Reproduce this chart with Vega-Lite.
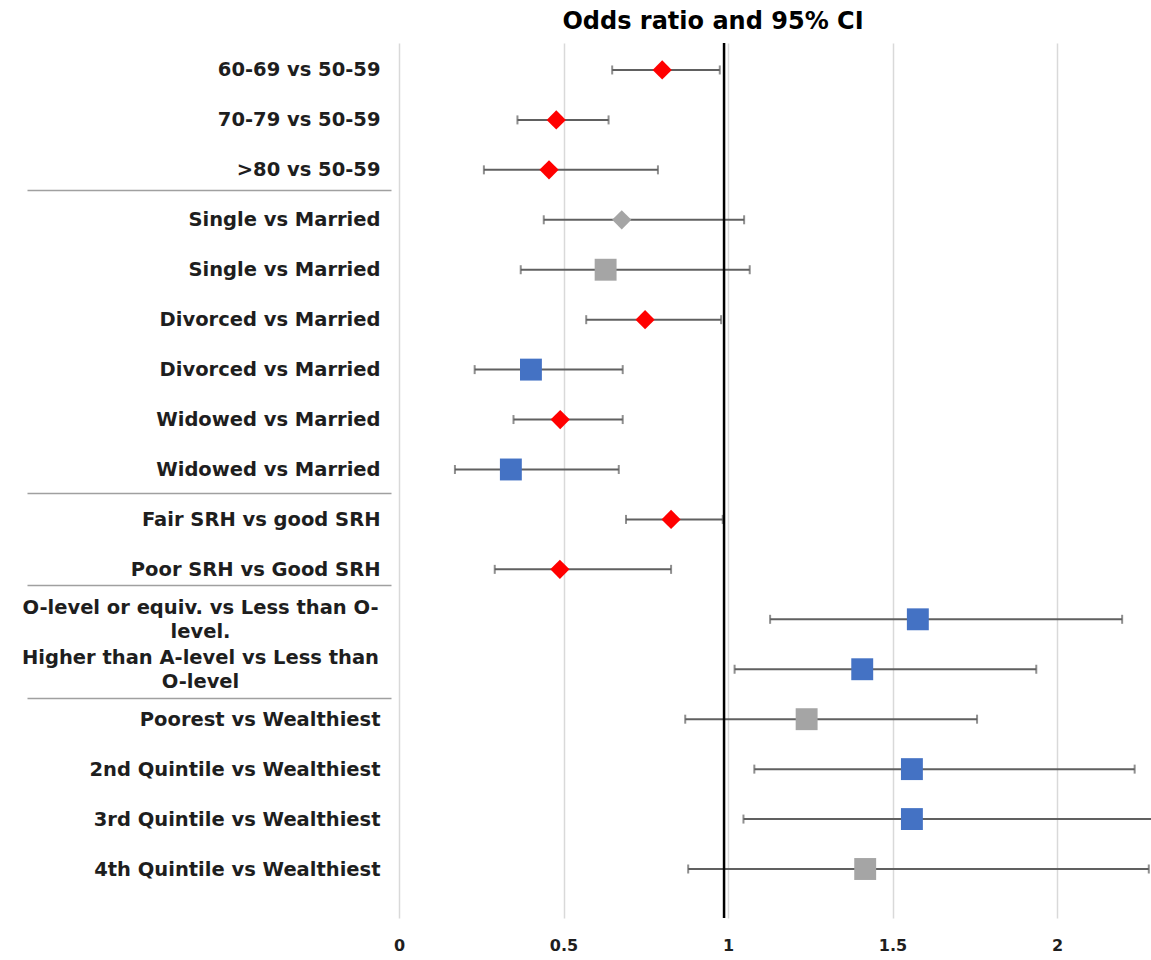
{
  "$schema": "https://vega.github.io/schema/vega-lite/v6.json",
  "autosize": "none",
  "padding": {"left": 399, "top": 43, "right": 0, "bottom": 42},
  "width": 752,
  "height": 875,
  "background": "white",
  "title": {"text": "Odds ratio and 95% CI", "font": "DejaVu Sans", "fontSize": 24, "fontWeight": "bold", "color": "#000000", "anchor": "middle", "dx": -62, "dy": 25, "offset": 14, "baseline": "alphabetic", "frame": "group"},
  "datasets": {
    "rows": [
      {"label": "60-69 vs 50-59", "or": 0.80, "lo": 0.648, "hi": 0.975, "model": "A", "kind": "A-sig"},
      {"label": "70-79 vs 50-59\u00a0", "or": 0.478, "lo": 0.36, "hi": 0.637, "model": "A", "kind": "A-sig"},
      {"label": ">80 vs 50-59", "or": 0.456, "lo": 0.258, "hi": 0.787, "model": "A", "kind": "A-sig"},
      {"label": "Single vs Married", "or": 0.677, "lo": 0.44, "hi": 1.049, "model": "A", "kind": "A-ns"},
      {"label": "Single vs Married\u200b", "or": 0.628, "lo": 0.37, "hi": 1.066, "model": "B", "kind": "B-ns"},
      {"label": "Divorced vs Married", "or": 0.748, "lo": 0.569, "hi": 0.979, "model": "A", "kind": "A-sig"},
      {"label": "Divorced vs Married\u200b", "or": 0.401, "lo": 0.23, "hi": 0.68, "model": "B", "kind": "B-sig"},
      {"label": "Widowed vs Married", "or": 0.49, "lo": 0.348, "hi": 0.68, "model": "A", "kind": "A-sig"},
      {"label": "Widowed vs Married\u200b", "or": 0.34, "lo": 0.17, "hi": 0.668, "model": "B", "kind": "B-sig"},
      {"label": "Fair SRH vs good SRH", "or": 0.827, "lo": 0.69, "hi": 0.984, "model": "A", "kind": "A-sig"},
      {"label": "Poor SRH vs Good SRH", "or": 0.489, "lo": 0.291, "hi": 0.827, "model": "A", "kind": "A-sig"},
      {"label": "O-level or equiv. vs Less than O-|level.", "or": 1.577, "lo": 1.128, "hi": 2.198, "model": "B", "kind": "B-sig"},
      {"label": "Higher than A-level vs Less than|O-level", "or": 1.408, "lo": 1.02, "hi": 1.937, "model": "B", "kind": "B-sig"},
      {"label": "Poorest vs Wealthiest", "or": 1.239, "lo": 0.87, "hi": 1.757, "model": "B", "kind": "B-ns"},
      {"label": "2nd Quintile vs Wealthiest", "or": 1.559, "lo": 1.08, "hi": 2.236, "model": "B", "kind": "B-sig"},
      {"label": "3rd Quintile vs Wealthiest", "or": 1.559, "lo": 1.047, "hi": 2.35, "model": "B", "kind": "B-sig"},
      {"label": "4th Quintile vs Wealthiest", "or": 1.417, "lo": 0.879, "hi": 2.279, "model": "B", "kind": "B-ns"}
    ],
    "reference": [{"ref": 0.988}],
    "separators": [{"sep": 3.40}, {"sep": 9.46}, {"sep": 11.31}, {"sep": 13.56}]
  },
  "layer": [
    {
      "data": {"name": "rows"},
      "encoding": {
        "y": {
          "field": "label", "type": "nominal", "sort": null,
          "scale": {"type": "point", "padding": 0.7605, "align": 0.355},
          "axis": {
            "title": null, "domain": false, "ticks": false, "grid": false,
            "labelFont": "DejaVu Sans", "labelFontWeight": "bold", "labelFontSize": 19.5,
            "labelColor": "#1e1e1e", "labelLimit": 1000, "labelLineHeight": 24,
            "labelBaseline": "middle",
            "labelExpr": "split(datum.label, '|')",
            "labelAlign": {"condition": {"test": "indexof(datum.label, '|') >= 0", "value": "center"}, "value": "right"},
            "labelPadding": {"condition": {"test": "indexof(datum.label, '|') >= 0", "value": 199}, "value": 19},
            "labelOffset": {"condition": {"test": "indexof(datum.label, '|') >= 0", "value": -12}, "value": 0}
          }
        }
      },
      "layer": [
        {
          "mark": {"type": "rule", "color": "#606060", "strokeWidth": 2, "clip": true},
          "encoding": {
            "x": {"field": "lo", "type": "quantitative", "scale": {"domain": [0, 2.2857], "nice": false, "zero": false},
                  "axis": {"title": null, "values": [0, 0.5, 1, 1.5, 2], "format": "~g", "domain": false, "ticks": false,
                           "grid": true, "gridColor": "#d9d9d9", "gridWidth": 1.5, "labelFlush": false,
                           "labelFont": "DejaVu Sans", "labelFontWeight": "bold", "labelFontSize": 16, "labelColor": "#1e1e1e",
                           "labelPadding": 19}},
            "x2": {"field": "hi"}
          }
        },
        {
          "mark": {"type": "tick", "color": "#606060", "thickness": 2, "size": 9, "orient": "vertical", "clip": true},
          "encoding": {"x": {"field": "lo", "type": "quantitative"}}
        },
        {
          "mark": {"type": "tick", "color": "#606060", "thickness": 2, "size": 9, "orient": "vertical", "clip": true},
          "encoding": {"x": {"field": "hi", "type": "quantitative"}}
        },
        {
          "mark": {"type": "point", "filled": true, "opacity": 1, "strokeWidth": 0},
          "encoding": {
            "x": {"field": "or", "type": "quantitative"},
            "color": {"field": "kind", "type": "nominal", "scale": {"domain": ["A-sig", "A-ns", "B-sig", "B-ns"], "range": ["#ff0000", "#a5a5a5", "#4472c4", "#a5a5a5"]}, "legend": null},
            "shape": {"field": "model", "type": "nominal", "scale": {"domain": ["A", "B"], "range": ["diamond", "square"]}, "legend": null},
            "size": {"field": "model", "type": "nominal", "scale": {"domain": ["A", "B"], "range": [370, 480]}, "legend": null}
          }
        }
      ]
    },
    {
      "data": {"name": "reference"},
      "mark": {"type": "rule", "color": "#000000", "strokeWidth": 2.5},
      "encoding": {"x": {"field": "ref", "type": "quantitative"}}
    },
    {
      "data": {"name": "separators"},
      "mark": {"type": "point", "opacity": 0},
      "encoding": {
        "y": {"field": "sep", "type": "quantitative",
              "scale": {"domain": [0.4596, 17.973], "reverse": true, "nice": false, "zero": false},
              "axis": {"orient": "left", "offset": 8, "values": [3.40, 9.46, 11.31, 13.56], "tickSize": 364,
                       "tickColor": "#a0a0a0", "tickWidth": 1.5, "labels": false, "domain": false, "grid": false, "title": null}}
      }
    }
  ],
  "resolve": {"scale": {"y": "independent"}, "axis": {"y": "independent"}},
  "config": {"view": {"stroke": null}}
}
